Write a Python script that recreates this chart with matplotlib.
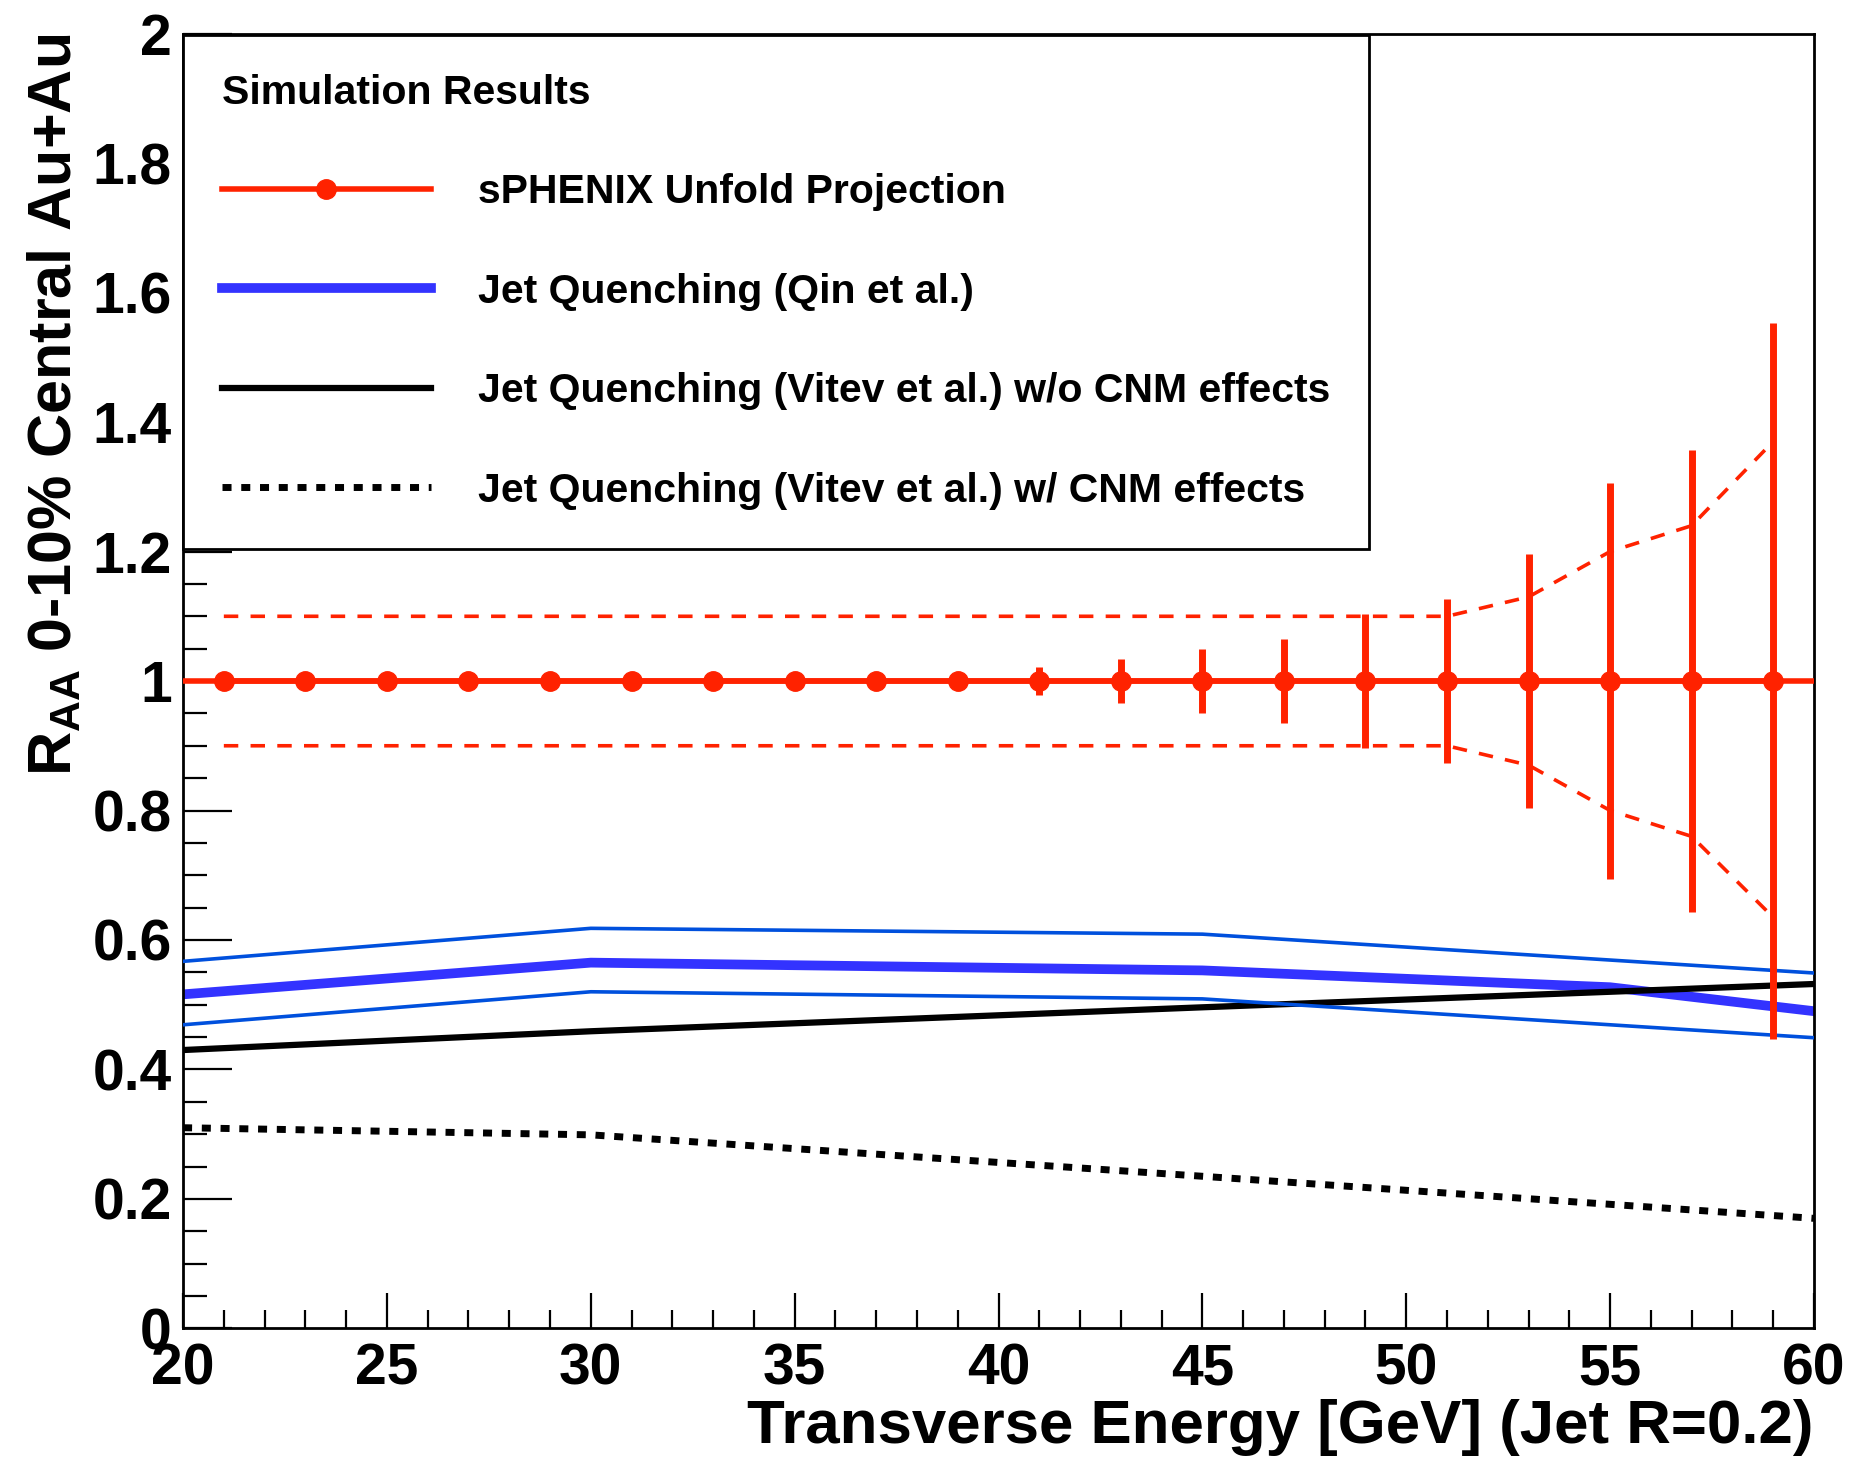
import matplotlib
matplotlib.use('Agg')
import matplotlib.pyplot as plt
from matplotlib.ticker import MultipleLocator

# sPHENIX projection points
et = [21, 23, 25, 27, 29, 31, 33, 35, 37, 39, 41, 43, 45, 47, 49, 51, 53, 55, 57, 59]
raa = [1.0, 1.0, 1.0, 1.0, 1.0, 1.0, 1.0, 1.0, 1.0, 1.0,
       1.0, 1.0, 1.0, 1.0, 1.0, 1.0, 1.0, 1.0, 1.0, 1.0]
stat_err = [0.004, 0.004, 0.005, 0.005, 0.006, 0.006, 0.007, 0.008, 0.009, 0.012,
            0.021, 0.034, 0.050, 0.065, 0.103, 0.127, 0.196, 0.306, 0.357, 0.553]
sys_up = [1.1, 1.1, 1.1, 1.1, 1.1, 1.1, 1.1, 1.1, 1.1, 1.1,
          1.1, 1.1, 1.1, 1.1, 1.1, 1.1, 1.13, 1.2, 1.24, 1.37]
sys_lo = [0.9, 0.9, 0.9, 0.9, 0.9, 0.9, 0.9, 0.9, 0.9, 0.9,
          0.9, 0.9, 0.9, 0.9, 0.9, 0.9, 0.87, 0.80, 0.76, 0.635]

# Qin et al. band
qin_et = [20, 30, 45, 55, 60]
qin_c = [0.516, 0.565, 0.553, 0.527, 0.49]
qin_hi = [0.567, 0.618, 0.609, 0.569, 0.549]
qin_lo = [0.469, 0.520, 0.509, 0.469, 0.449]

# Vitev et al.
vit_et = [20, 30, 45, 60]
vit_nocnm = [0.43, 0.459, 0.496, 0.532]
vit_cnm = [0.31, 0.299, 0.235, 0.17]

red = '#ff2200'
blue = '#3333ff'
band = '#0050dd'

plt.rcParams['font.family'] = ['Liberation Sans', 'DejaVu Sans']
plt.rcParams['font.weight'] = 'bold'
plt.rcParams['axes.labelweight'] = 'bold'
plt.rcParams['mathtext.fontset'] = 'custom'
plt.rcParams['mathtext.rm'] = 'Liberation Sans:bold'
plt.rcParams['mathtext.it'] = 'Liberation Sans:bold'
plt.rcParams['mathtext.bf'] = 'Liberation Sans:bold'

fig = plt.figure(figsize=(18.51, 14.63), dpi=100)
ax = fig.add_axes([0.0989, 0.092, 0.8811, 0.885])

# theory curves
ax.plot(qin_et, qin_c, color=blue, lw=7, label='Jet Quenching (Qin et al.)', zorder=2)
ax.plot(vit_et, vit_nocnm, color='black', lw=4.5,
        label='Jet Quenching (Vitev et al.) w/o CNM effects', zorder=3)
ax.plot(qin_et, qin_hi, color=band, lw=2.6, zorder=4)
ax.plot(qin_et, qin_lo, color=band, lw=2.6, zorder=4)
ax.plot(vit_et, vit_cnm, color='black', lw=5, linestyle=(0, (1.3, 1.4)),
        label='Jet Quenching (Vitev et al.) w/ CNM effects', zorder=3)

# projection
ax.plot(et, sys_up, color=red, lw=2.6, linestyle=(0, (4, 3.4)), zorder=5)
ax.plot(et, sys_lo, color=red, lw=2.6, linestyle=(0, (4, 3.4)), zorder=5)
ax.axhline(1.0, color=red, lw=4, zorder=6)
ax.errorbar(et, raa, yerr=stat_err, fmt='none', ecolor=red, elinewidth=5, zorder=6)
ax.plot(et, raa, color=red, lw=4, marker='o', ms=14, zorder=7,
        label='sPHENIX Unfold Projection')

ax.set_xlim(20, 60)
ax.set_ylim(0, 2)
ax.xaxis.set_major_locator(MultipleLocator(5))
ax.xaxis.set_minor_locator(MultipleLocator(1))
ax.yaxis.set_minor_locator(MultipleLocator(0.05))
ax.set_yticks([0, 0.2, 0.4, 0.6, 0.8, 1.0, 1.2, 1.4, 1.6, 1.8, 2.0])
ax.set_yticklabels(['0', '0.2', '0.4', '0.6', '0.8', '1', '1.2', '1.4', '1.6', '1.8', '2'])

ax.tick_params(axis='both', which='both', direction='in', top=False, right=False,
               width=1.6, labelsize=41)
ax.tick_params(axis='x', which='major', length=25, pad=10)
ax.tick_params(axis='x', which='minor', length=13)
ax.tick_params(axis='y', which='major', length=35, pad=8)
ax.tick_params(axis='y', which='minor', length=17)
for s in ax.spines.values():
    s.set_linewidth(2)

ax.set_xlabel('Transverse Energy [GeV] (Jet R=0.2)', fontsize=44.5, fontweight='bold',
              loc='right', labelpad=2)
ax.set_ylabel(r'$R_{AA}$ 0-10% Central Au+Au', fontsize=44, fontweight='bold',
              loc='top', labelpad=6)

h, l = ax.get_legend_handles_labels()
order = [3, 0, 1, 2]
leg = ax.legend([h[i] for i in order], [l[i] for i in order],
                title='Simulation Results', title_fontproperties={'size': 29.5, 'weight': 'bold'},
                alignment='left', loc='upper left', bbox_to_anchor=(0, 0.999),
                borderaxespad=0, fontsize=29.5, frameon=True, fancybox=False,
                edgecolor='black', framealpha=1, numpoints=1,
                handlelength=5.1, handletextpad=1.15, labelspacing=1.5,
                borderpad=0.95)
leg.get_frame().set_linewidth(2)
leg.set_zorder(10)

fig.savefig('out.png', dpi=100)
